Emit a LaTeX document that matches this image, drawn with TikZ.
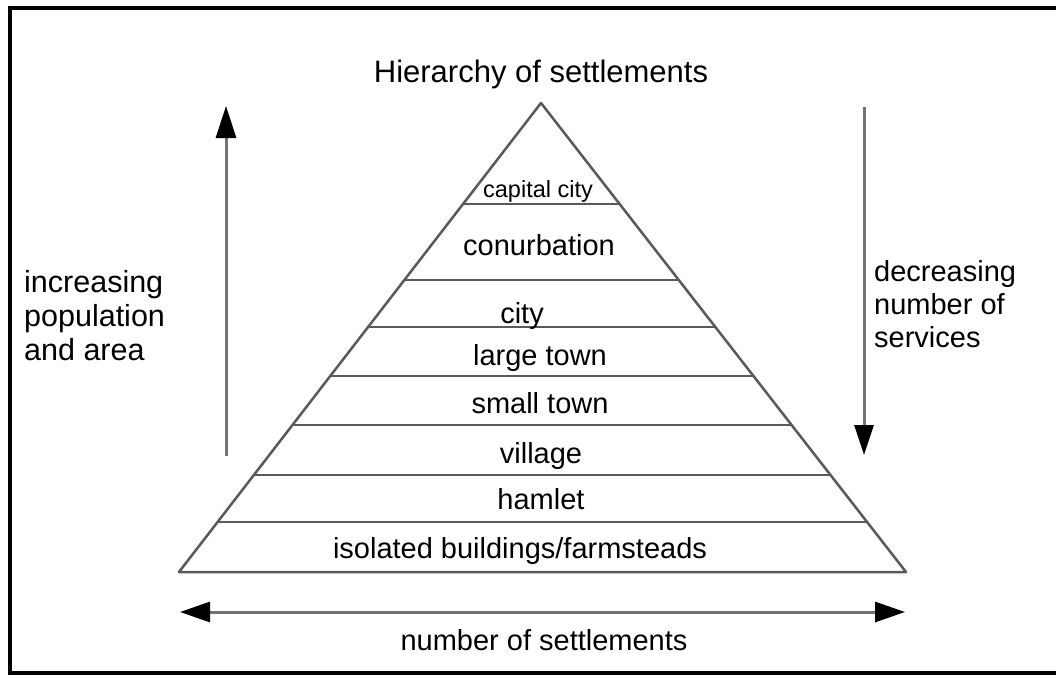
\documentclass[tikz,border=0pt]{standalone}
\usepackage{fontspec}
\setmainfont{Liberation Sans}
\usetikzlibrary{arrows.meta,calc}
\begin{document}
\begin{tikzpicture}[x=1pt,y=-1pt,
  pyr/.style={draw=black!65, line width=2.5pt, line join=round},
  arr/.style={draw=black!55, line width=3pt},
  lbl/.style={inner sep=0pt, anchor=base, font=\fontsize{29}{33}\selectfont},
  side/.style={inner sep=0pt, anchor=base west, align=left},
  ]
\useasboundingbox (0,0) rectangle (1056,677);
\draw[line width=3.2pt] (10,8) rectangle (1062,673);
% pyramid
\coordinate (apex) at (541,103);
\coordinate (bl) at (179,572);
\coordinate (br) at (906,572);
\draw[pyr] (bl) -- (apex) -- (br) -- cycle;
\foreach \yy in {204,280,327,376,425,475,522}
  \draw[pyr] ($(apex)!{(\yy-103)/469}!(bl)$) -- ($(apex)!{(\yy-103)/469}!(br)$);
% labels
\node[inner sep=0pt, anchor=base, font=\fontsize{31}{35}\selectfont] (title) at (541,82) {Hierarchy of settlements};
\node[lbl, font=\fontsize{23.5}{27}\selectfont] (capital) at (538,197) {capital city};
\node[lbl] (conurb) at (539,255) {conurbation};
\node[lbl] (city) at (522,323) {city};
\node[lbl] (large) at (540,365) {large town};
\node[lbl] (small) at (540,413) {small town};
\node[lbl] (village) at (541,463) {village};
\node[lbl] (hamlet) at (541,509) {hamlet};
\node[lbl] (isolated) at (520,558) {isolated buildings/farmsteads};
\node[lbl] (number) at (544,650) {number of settlements};
% side texts (base anchor = last line)
\node[side, font=\fontsize{30.5}{34}\selectfont] (inc) at (24,360) {increasing\\population\\and area};
\node[side, font=\fontsize{29}{33}\selectfont] (dec) at (874,347) {decreasing\\number of\\services};
% arrows
\coordinate (upS) at (226,456);
\coordinate (upE) at (226,106);
\draw[arr, -{Triangle[length=32pt,width=20pt,color=black]}] (upS) -- (upE);
\coordinate (dnS) at (864,107);
\coordinate (dnE) at (864,455);
\draw[arr, -{Triangle[length=30pt,width=19pt,color=black]}] (dnS) -- (dnE);
\coordinate (hL) at (180,612);
\coordinate (hR) at (905,612);
\draw[arr, {Triangle[length=30pt,width=20pt,color=black]}-{Triangle[length=30pt,width=20pt,color=black]}] (hL) -- (hR);
\end{tikzpicture}
\end{document}
